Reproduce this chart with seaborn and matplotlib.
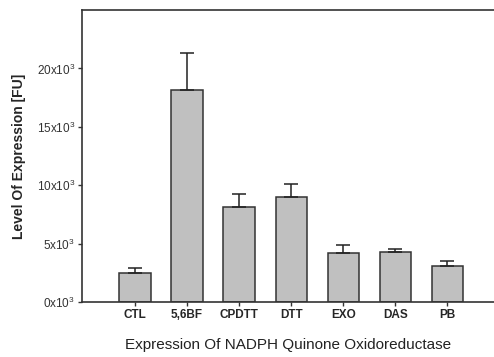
import matplotlib
matplotlib.use("Agg")
import matplotlib.pyplot as plt
import seaborn as sns
import pandas as pd

# values
categories = ["CTL", "5,6BF", "CPDTT", "DTT", "EXO", "DAS", "PB"]
means = [2460, 18150, 8150, 8980, 4180, 4260, 3110]
errors = [430, 3200, 1090, 1090, 690, 260, 430]
ytick_values = [0, 5000, 10000, 15000, 20000]
ytick_labels = ["0x10$^3$", "5x10$^3$", "10x10$^3$", "15x10$^3$", "20x10$^3$"]

df = pd.DataFrame({"group": categories, "level": means, "err": errors})

sns.set_style("white")
plt.rcParams["font.family"] = ["Liberation Sans", "DejaVu Sans"]
plt.rcParams["mathtext.fontset"] = "custom"
plt.rcParams["mathtext.rm"] = "Liberation Sans"

fig = plt.figure(figsize=(4.94, 3.57), dpi=100)
ax = fig.add_axes([0.166, 0.154, 0.834, 0.818])

sns.barplot(data=df, x="group", y="level", color="#c0c0c0", saturation=1,
            edgecolor="#333333", linewidth=1.1, width=0.6, errorbar=None, ax=ax)
ax.errorbar(range(len(categories)), df["level"],
            yerr=[[0] * len(errors), df["err"]],
            fmt="none", ecolor="#222222", elinewidth=1.1, capsize=5, capthick=1.1)

ax.set_xlim(-1.02, 6.9)
ax.set_ylim(0, 25000)
ax.set_yticks(ytick_values)
ax.set_yticklabels(ytick_labels, fontsize=8.5, color="#333333")
ax.set_xticks(range(len(categories)))
ax.set_xticklabels(categories, fontsize=8.5, fontweight="bold")

ax.set_ylabel("Level Of Expression [FU]", fontsize=10, fontweight="bold", labelpad=8)
ax.set_xlabel("Expression Of NADPH Quinone Oxidoreductase", fontsize=11,
              color="#222222", labelpad=12)

for side in ["left", "top", "bottom"]:
    ax.spines[side].set_visible(True)
    ax.spines[side].set_color("#333333")
    ax.spines[side].set_linewidth(1.2)
ax.spines["right"].set_visible(False)

ax.tick_params(axis="both", which="major", length=3, width=1, color="#333333",
               direction="out", left=True, bottom=True, pad=2)

fig.savefig("out.png", dpi=100)
